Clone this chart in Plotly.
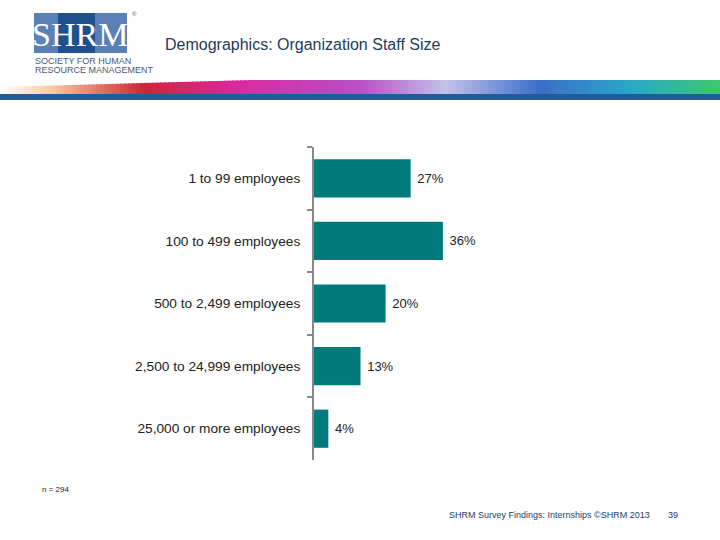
import plotly.graph_objects as go

categories = ["1 to 99 employees", "100 to 499 employees", "500 to 2,499 employees",
              "2,500 to 24,999 employees", "25,000 or more employees"]
values = [27, 36, 20, 13, 4]
value_labels = ["27%", "36%", "20%", "13%", "4%"]

W, H = 720, 540
def px(x): return x / W
def py(y): return 1 - y / H

fig = go.Figure()
fig.add_trace(go.Bar(
    y=categories, x=values, orientation="h",
    marker=dict(color="#007A7A", line=dict(width=0)),
    width=0.61,
    text=[" " + v for v in value_labels], textposition="outside",
    textfont=dict(family="Liberation Sans, Arial", size=13, color="#222222"),
    cliponaxis=False,
))

shapes = []
# gradient stripe (decoration)
stops = [(0, (255, 255, 255)), (0.07, (245, 205, 170)), (0.2, (210, 35, 60)),
         (0.33, (220, 40, 160)), (0.5, (185, 80, 200)), (0.62, (195, 195, 235)),
         (0.75, (60, 110, 200)), (0.88, (40, 170, 200)), (1.0, (60, 200, 110))]
def col(t):
    for i in range(len(stops) - 1):
        a, ca = stops[i]
        b, cb = stops[i + 1]
        if a <= t <= b:
            f = (t - a) / (b - a)
            c = [int(ca[k] + (cb[k] - ca[k]) * f) for k in range(3)]
            return "rgb(%d,%d,%d)" % tuple(c)
    return "rgb(60,200,110)"
N = 180
for i in range(N):
    x0 = W * i / N
    x1 = W * (i + 1) / N + 1
    t = (i + 0.5) / N
    top = 80 + max(0.0, 0.35 - t) / 0.35 * 7
    shapes.append(dict(type="rect", xref="paper", yref="paper",
                       x0=px(x0), x1=px(x1), y0=py(95), y1=py(top),
                       fillcolor=col(t), line=dict(width=0), layer="below"))
# blue band
shapes.append(dict(type="rect", xref="paper", yref="paper", x0=0, x1=1,
                   y0=py(100), y1=py(94), fillcolor="#1F5C99", line=dict(width=0)))
# logo
shapes.append(dict(type="rect", xref="paper", yref="paper", x0=px(34), x1=px(127),
                   y0=py(53), y1=py(13), fillcolor="#5B80B8", line=dict(width=0)))
shapes.append(dict(type="rect", xref="paper", yref="paper", x0=px(58), x1=px(95),
                   y0=py(53), y1=py(13), fillcolor="#1E4F8F", line=dict(width=0)))
fig.update_layout(shapes=shapes)

ann = [
    dict(text="SHRM", x=px(80), y=py(34), xanchor="center", yanchor="middle",
         font=dict(family="Liberation Serif, Times New Roman", size=34, color="white")),
    dict(text="®", x=px(130), y=py(14), xanchor="left", yanchor="middle",
         font=dict(family="Liberation Sans, Arial", size=6, color="#4A5A70")),
    dict(text="SOCIETY FOR HUMAN", x=px(33), y=py(61), xanchor="left", yanchor="middle",
         font=dict(family="Liberation Sans Narrow, Liberation Sans", size=9, color="#4A5A70")),
    dict(text="RESOURCE MANAGEMENT", x=px(33), y=py(70), xanchor="left", yanchor="middle",
         font=dict(family="Liberation Sans Narrow, Liberation Sans", size=9, color="#4A5A70")),
    dict(text="Demographics: Organization Staff Size", x=px(163), y=py(44), xanchor="left",
         yanchor="middle", font=dict(family="Liberation Sans, Arial", size=16, color="#1F3B55")),
    dict(text="n = 294", x=px(40), y=py(489), xanchor="left", yanchor="middle",
         font=dict(family="Liberation Sans, Arial", size=8, color="#222222")),
    dict(text="SHRM Survey Findings: Internships ©SHRM 2013", x=px(447), y=py(515),
         xanchor="left", yanchor="middle",
         font=dict(family="Liberation Sans, Arial", size=9, color="#1F3B6B")),
    dict(text="39", x=px(666), y=py(515), xanchor="left", yanchor="middle",
         font=dict(family="Liberation Sans, Arial", size=9, color="#1F3B6B")),
]
for a in ann:
    a.update(xref="paper", yref="paper", showarrow=False)
fig.update_layout(annotations=ann)

fig.update_layout(
    width=W, height=H, margin=dict(l=0, r=0, t=0, b=0),
    paper_bgcolor="white", plot_bgcolor="white", showlegend=False,
    xaxis=dict(domain=[px(314), px(672)], range=[0, 100], visible=False),
    yaxis=dict(domain=[py(460), py(147)], autorange="reversed",
               showline=True, linecolor="#888888", linewidth=2,
               ticks="outside", ticklen=5, tickcolor="#888888", tickwidth=2,
               tickson="boundaries", showgrid=False, ticklabelstandoff=9,
               tickfont=dict(family="Liberation Sans, Arial", size=13.7, color="#222222")),
    bargap=0.39,
)

fig.write_html("out.html", config={"displayModeBar": False},
               post_script="document.body.style.margin='0';")
